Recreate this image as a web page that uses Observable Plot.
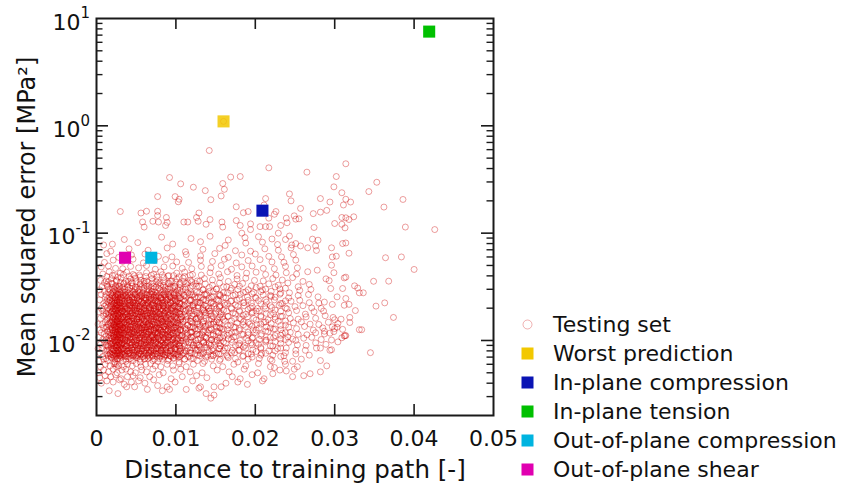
<!DOCTYPE html>
<html><head><meta charset="utf-8">
<script src="https://cdn.jsdelivr.net/npm/d3@7"></script>
<script src="https://cdn.jsdelivr.net/npm/@observablehq/plot@0.6"></script>
<style>
body{margin:0;background:#fff;font-family:"DejaVu Sans",sans-serif;}
#wrap{position:relative;width:847px;height:488px;overflow:hidden;}
.row{position:absolute;left:515px;height:29px;display:flex;align-items:center;font-size:22px;color:#111;white-space:nowrap;line-height:29px;}
.row svg{width:25px;height:25px;margin-right:13px;flex:none;}
</style></head><body><div id="wrap"></div>
<script>
// Testing set: [distance to training path, mean squared error]
const testSet = [
// sparse upper points
[.0142,.589],[.0217,.406],[.0092,.33],[.0169,.333],[.0181,.337],[.0106,.288],[.0122,.268],[.0159,.29],[.0161,.256],[.0137,.249],[.0077,.219],[.0099,.219],[.0104,.207],[.0103,.196],[.0144,.205],[.0157,.222],[.0243,.232],[.0245,.2],[.0213,.21],[.0176,.176],[.0191,.159],[.0185,.155],[.003,.159],[.0056,.154],[.0063,.16],[.0077,.16],[.0077,.146],[.0088,.14],[.0071,.129],[.0078,.127],[.0089,.126],[.0129,.154],[.0126,.14],[.0128,.129],[.0138,.121],[.0143,.134],[.0115,.127],[.0158,.127],[.0159,.114],[.0176,.131],[.0181,.118],[.0183,.1],[.0226,.159],[.0224,.15],[.0217,.138],[.0206,.115],[.0213,.115],[.0218,.115],[.0239,.138],[.024,.125],[.0229,.1],[.0243,.094],[.0251,.135],[.002,.079],[.0194,.108],[.006,.114],[.0058,.127],[.0087,.118],[.011,.127],[.0211,.183],[.0249,.145],[.0194,.122],[.0232,.118],[.016,1.1],
[.0314,.443],[.0265,.37],[.0302,.337],[.0299,.27],[.0353,.298],[.0343,.244],[.0309,.238],[.0314,.207],[.032,.195],[.0311,.183],[.0282,.21],[.0294,.195],[.0386,.206],[.0362,.175],[.0257,.17],[.029,.163],[.0282,.157],[.0273,.152],[.0255,.136],[.0309,.14],[.0314,.139],[.0318,.134],[.0324,.142],[.03,.123],[.0309,.121],[.0313,.112],[.0274,.113],[.0389,.114],[.0426,.108],
[.0272,.088],[.0279,.086],[.0251,.08],[.0257,.076],[.0266,.073],[.0276,.076],[.0277,.069],[.031,.08],[.0314,.081],[.0296,.073],[.0318,.065],[.0297,.06],[.0302,.061],[.0364,.059],[.0384,.06],
[.04,.0459],[.0349,.0356],[.0368,.0357],[.0312,.0383],[.0314,.0389],[.0325,.0323],[.0329,.0308],[.0336,.0278],[.0331,.0278],[.0352,.0209],[.0363,.0224],[.0374,.0164],[.0331,.0126],[.0334,.0126],[.0312,.011],[.0314,.0111],[.0345,.0077],[.0294,.0081],[.0282,.0085],[.029,.0058],[.0282,.0065],[.0282,.0051],[.0269,.0049],[.0261,.0047],[.0253,.0057],[.0247,.0046],[.0319,.0164],[.0319,.0147],[.0308,.0158],[.0298,.0164],[.03,.0129],[.0294,.0117],[.0287,.0122],[.0303,.0133],[.0326,.019],[.0318,.0217],[.0312,.0213],[.0314,.0246],[.0297,.0217],[.0303,.0255],[.0287,.0228],[.031,.0305],[.0295,.0305],[.0293,.0361],[.0289,.0375],[.0278,.0452],[.0296,.0503],[.0299,.0428],
// lower fringe
[.0016,.0034],[.0027,.0032],[.0038,.0037],[.0048,.0037],[.0064,.0035],[.0077,.0038],[.0083,.0034],[.0089,.0037],[.0092,.0035],[.0113,.0035],[.0129,.0036],[.0131,.0037],[.0138,.0032],[.0144,.0029],[.0148,.0031],[.0148,.0037],[.0157,.0037],[.0178,.0041],[.0181,.0044],[.019,.0039],[.0209,.0042],[.0211,.0044],[.0222,.0049],[.0224,.0056],[.0239,.0052],[.0247,.0064],[.0249,.0054],
[.0006,.004],[.0013,.0042],[.0021,.0041],[.0029,.0043],[.0035,.0039],[.0044,.0041],[.0053,.0042],[.0061,.004],[.0072,.0043],[.0099,.0041],[.0121,.0042],[.0163,.004],
[.0004,.0045],[.0011,.0047],[.0018,.0046],[.0024,.0048],[.0031,.0044],[.0039,.0046],[.0046,.0047],[.0055,.0045],[.0067,.0046],[.0079,.0048],[.0094,.0044],[.0108,.0046],[.0126,.0047],[.0139,.0045],[.0171,.0046],[.0196,.0048],
[.0003,.005],[.0009,.0053],[.0015,.0051],[.0021,.0054],[.0026,.005],[.0032,.0053],[.0037,.0054],[.0043,.0051],[.0049,.005],[.0057,.0053],[.0063,.0051],[.0071,.0054],[.0084,.005],[.0097,.0053],[.0106,.0054],[.0118,.0051],[.0133,.005],[.0152,.0053],[.0167,.0051],[.0186,.0054],[.0203,.005],[.0231,.0053],
[.0005,.0057],[.0011,.006],[.0017,.0058],[.0022,.0061],[.0025,.0057],[.0026,.006],[.0024,.0061],[.0028,.0058],[.0034,.0057],[.0039,.006],[.0045,.0058],[.005,.0061],[.0056,.0057],[.0062,.006],[.0068,.0061],[.0074,.0058],[.0081,.0057],[.0089,.006],[.0096,.0058],[.0104,.0061],[.0113,.0057],[.0122,.006],[.0134,.0061],[.0147,.0058],[.0159,.0057],[.0173,.006],[.0188,.0058],[.0204,.0061],[.0219,.0057],[.0238,.006],
// core
[.0003,.0064],[.0009,.0067],[.0014,.0065],[.0019,.0069],[.0023,.0063],[.0026,.0067],[.0029,.0068],[.0033,.0065],[.0037,.0064],[.0041,.0067],[.0046,.0065],[.0051,.0069],[.0055,.0063],[.006,.0067],[.0065,.0068],[.0071,.0065],[.0077,.0064],[.0083,.0067],[.009,.0065],[.0097,.0069],[.0104,.0063],[.0111,.0067],[.0119,.0068],[.0127,.0065],[.0136,.0064],[.0145,.0067],[.0155,.0065],[.0166,.0069],[.0178,.0063],[.0191,.0067],[.0205,.0068],[.0221,.0065],[.0237,.0064],[.0258,.0067],
[.0004,.0077],[.0008,.0071],[.0013,.0075],[.0017,.0076],[.0021,.0073],[.0024,.0072],[.0027,.0075],[.003,.0073],[.0032,.0077],[.0036,.0071],[.004,.0075],[.0043,.0076],[.0047,.0073],[.0052,.0072],[.0056,.0075],[.0061,.0073],[.0066,.0077],[.007,.0071],[.0075,.0075],[.008,.0076],[.0086,.0073],[.0092,.0072],[.0098,.0075],[.0103,.0073],[.011,.0077],[.0117,.0071],[.0124,.0075],[.0131,.0076],[.0139,.0073],[.0147,.0072],[.0156,.0075],[.0164,.0073],[.0174,.0077],[.0184,.0071],[.0195,.0075],[.0208,.0076],[.0222,.0073],[.0236,.0072],[.0251,.0075],[.0268,.0073],
[.0002,.0084],[.0007,.0085],[.0012,.0081],[.0016,.0081],[.0019,.0085],[.0022,.0082],[.0025,.0086],[.0028,.008],[.0031,.0084],[.0034,.0085],[.0037,.0081],[.0041,.0081],[.0044,.0085],[.0048,.0082],[.0052,.0086],[.0055,.008],[.0059,.0084],[.0063,.0085],[.0068,.0081],[.0072,.0081],[.0077,.0085],[.0082,.0082],[.0087,.0086],[.0093,.008],[.0099,.0084],[.0105,.0085],[.0111,.0081],[.0118,.0081],[.0124,.0085],[.0132,.0082],[.0139,.0086],[.0147,.008],[.0154,.0084],[.0162,.0085],[.0171,.0081],[.0179,.0081],[.0188,.0085],[.0197,.0082],[.0207,.0086],[.0217,.008],[.0228,.0084],[.0239,.0085],[.0251,.0081],[.0263,.0081],[.0277,.0085],[.0296,.0082],
[.0005,.0092],[.001,.0097],[.0014,.0089],[.0018,.0094],[.0021,.0096],[.0023,.0091],[.0026,.009],[.0029,.0095],[.0032,.0092],[.0035,.0097],[.0038,.0089],[.0042,.0094],[.0045,.0096],[.0049,.0091],[.0053,.009],[.0056,.0095],[.006,.0092],[.0064,.0097],[.0067,.0089],[.0071,.0094],[.0075,.0096],[.0079,.0091],[.0084,.009],[.0089,.0095],[.0094,.0092],[.0099,.0097],[.0104,.0089],[.011,.0094],[.0116,.0096],[.0122,.0091],[.0129,.009],[.0135,.0095],[.0142,.0092],[.0149,.0097],[.0156,.0089],[.0163,.0094],[.0171,.0096],[.0179,.0091],[.0187,.009],[.0195,.0095],[.0204,.0092],[.0213,.0097],[.0222,.0089],[.0232,.0094],[.0242,.0096],[.0253,.0091],[.0264,.009],[.0276,.0095],[.0289,.0092],[.0304,.0097],
[.0003,.0107],[.0008,.0102],[.0012,.0101],[.0016,.0106],[.002,.0103],[.0022,.0108],[.0025,.01],[.0027,.0105],[.003,.0107],[.0033,.0102],[.0036,.0101],[.0039,.0106],[.0043,.0103],[.0046,.0108],[.005,.01],[.0054,.0105],[.0057,.0107],[.0061,.0102],[.0065,.0101],[.0069,.0106],[.0073,.0103],[.0077,.0108],[.0081,.01],[.0086,.0105],[.0091,.0107],[.0096,.0102],[.0101,.0101],[.0107,.0106],[.0113,.0103],[.0119,.0108],[.0125,.01],[.0131,.0105],[.0138,.0107],[.0145,.0102],[.0152,.0101],[.0159,.0106],[.0166,.0103],[.0173,.0108],[.0181,.01],[.0189,.0105],[.0197,.0107],[.0205,.0102],[.0214,.0101],[.0223,.0106],[.0232,.0103],[.0241,.0108],[.0251,.01],[.0261,.0105],[.0271,.0107],[.0283,.0102],[.0296,.0101],[.0309,.0106],[.0247,.0103],[.0071,.0108],
[.0006,.0118],[.001,.0115],[.0014,.0121],[.0018,.0111],[.0021,.0117],[.0024,.0119],[.0026,.0114],[.0028,.0113],[.0031,.0118],[.0034,.0115],[.0037,.0121],[.004,.0111],[.0044,.0117],[.0047,.0119],[.0051,.0114],[.0055,.0113],[.0058,.0118],[.0062,.0115],[.0066,.0121],[.007,.0111],[.0074,.0117],[.0078,.0119],[.0083,.0114],[.0087,.0113],[.0092,.0118],[.0097,.0115],[.0102,.0121],[.0108,.0111],[.0114,.0117],[.012,.0119],[.0126,.0114],[.0133,.0113],[.014,.0118],[.0147,.0115],[.0153,.0121],[.016,.0111],[.0167,.0117],[.0175,.0119],[.0183,.0114],[.0191,.0113],[.0199,.0118],[.0208,.0115],[.0216,.0121],[.0225,.0111],[.0234,.0117],[.0244,.0119],[.0254,.0114],[.0265,.0113],[.0276,.0118],[.0287,.0115],[.0299,.0121],[.0313,.0111],[.0048,.0117],[.0063,.0119],[.0089,.0114],[.0029,.0113],
[.0004,.0125],[.0009,.0131],[.0013,.0134],[.0017,.0127],[.002,.0126],[.0023,.0133],[.0025,.0129],[.0028,.0135],[.003,.0125],[.0033,.0131],[.0036,.0134],[.0039,.0127],[.0042,.0126],[.0046,.0133],[.0049,.0129],[.0053,.0135],[.0056,.0125],[.006,.0131],[.0064,.0134],[.0068,.0127],[.0072,.0126],[.0076,.0133],[.008,.0129],[.0085,.0135],[.009,.0125],[.0095,.0131],[.01,.0134],[.0106,.0127],[.0112,.0126],[.0118,.0133],[.0124,.0129],[.013,.0135],[.0137,.0125],[.0144,.0131],[.0151,.0134],[.0158,.0127],[.0165,.0126],[.0173,.0133],[.018,.0129],[.0188,.0135],[.0197,.0125],[.0205,.0131],[.0214,.0134],[.0223,.0127],[.0232,.0126],[.0242,.0133],[.0252,.0129],[.0262,.0135],[.0273,.0125],[.0285,.0131],[.0297,.0134],[.031,.0127],[.0035,.0126],[.0058,.0133],[.0078,.0129],[.0024,.0135],
[.0002,.0142],[.0007,.0141],[.0011,.0148],[.0015,.0144],[.0019,.0151],[.0022,.0139],[.0024,.0146],[.0027,.0149],[.0029,.0142],[.0032,.0141],[.0035,.0148],[.0038,.0144],[.0041,.0151],[.0044,.0139],[.0048,.0146],[.0051,.0149],[.0055,.0142],[.0059,.0141],[.0062,.0148],[.0066,.0144],[.007,.0151],[.0074,.0139],[.0079,.0146],[.0083,.0149],[.0088,.0142],[.0093,.0141],[.0098,.0148],[.0103,.0144],[.0109,.0151],[.0115,.0139],[.0121,.0146],[.0127,.0149],[.0134,.0142],[.0141,.0141],[.0148,.0148],[.0155,.0144],[.0162,.0151],[.0169,.0139],[.0177,.0146],[.0185,.0149],[.0193,.0142],[.0202,.0141],[.0211,.0148],[.022,.0144],[.0229,.0151],[.0238,.0139],[.0248,.0146],[.0258,.0149],[.0269,.0142],[.028,.0141],[.0292,.0148],[.0304,.0144],[.0044,.0151],[.0067,.0139],[.0091,.0146],[.0026,.0149],
[.0005,.0161],[.0009,.017],[.0013,.0156],[.0017,.0165],[.0021,.0168],[.0023,.016],[.0026,.0158],[.0028,.0166],[.0031,.0161],[.0034,.017],[.0037,.0156],[.004,.0165],[.0043,.0168],[.0047,.016],[.005,.0158],[.0054,.0166],[.0058,.0161],[.0061,.017],[.0065,.0156],[.0069,.0165],[.0073,.0168],[.0077,.016],[.0082,.0158],[.0086,.0166],[.0091,.0161],[.0096,.017],[.0101,.0156],[.0107,.0165],[.0113,.0168],[.0119,.016],[.0125,.0158],[.0131,.0166],[.0138,.0161],[.0145,.017],[.0152,.0156],[.0159,.0165],[.0166,.0168],[.0174,.016],[.0182,.0158],[.019,.0166],[.0198,.0161],[.0207,.017],[.0216,.0156],[.0225,.0165],[.0234,.0168],[.0244,.016],[.0254,.0158],[.0264,.0166],[.0276,.0161],[.0288,.017],[.03,.0156],[.0038,.0165],[.0057,.0168],[.0079,.016],
[.0003,.0185],[.0008,.0188],[.0012,.0179],[.0016,.0178],[.002,.0187],[.0022,.0181],[.0025,.019],[.0027,.0176],[.003,.0185],[.0033,.0188],[.0036,.0179],[.0039,.0178],[.0042,.0187],[.0045,.0181],[.0049,.019],[.0053,.0176],[.0056,.0185],[.006,.0188],[.0064,.0179],[.0068,.0178],[.0072,.0187],[.0076,.0181],[.008,.019],[.0085,.0176],[.009,.0185],[.0095,.0188],[.01,.0179],[.0105,.0178],[.0111,.0187],[.0117,.0181],[.0123,.019],[.013,.0176],[.0136,.0185],[.0143,.0188],[.015,.0179],[.0157,.0178],[.0164,.0187],[.0172,.0181],[.018,.019],[.0188,.0176],[.0196,.0185],[.0205,.0188],[.0214,.0179],[.0223,.0178],[.0232,.0187],[.0242,.0181],[.0252,.019],[.0263,.0176],[.0274,.0185],[.0286,.0188],[.0052,.0179],[.0071,.0178],
[.0006,.0199],[.001,.0209],[.0014,.0203],[.0018,.0213],[.0021,.0197],[.0024,.0207],[.0026,.0211],[.0029,.0201],[.0032,.0199],[.0035,.0209],[.0038,.0203],[.0041,.0213],[.0044,.0197],[.0048,.0207],[.0051,.0211],[.0055,.0201],[.0059,.0199],[.0063,.0209],[.0067,.0203],[.0071,.0213],[.0075,.0197],[.0079,.0207],[.0084,.0211],[.0089,.0201],[.0094,.0199],[.0099,.0209],[.0104,.0203],[.011,.0213],[.0116,.0197],[.0122,.0207],[.0128,.0211],[.0134,.0201],[.0141,.0199],[.0148,.0209],[.0155,.0203],[.0162,.0213],[.017,.0197],[.0178,.0207],[.0186,.0211],[.0194,.0201],[.0203,.0199],[.0212,.0209],[.0221,.0203],[.023,.0213],[.024,.0197],[.025,.0207],[.026,.0211],[.0271,.0201],[.0283,.0199],[.0046,.0209],
[.0004,.0239],[.0009,.0221],[.0013,.0232],[.0017,.0237],[.002,.0225],[.0023,.0223],[.0026,.0235],[.0029,.0228],[.0032,.0239],[.0035,.0221],[.0039,.0232],[.0042,.0237],[.0046,.0225],[.0049,.0223],[.0053,.0235],[.0057,.0228],[.0061,.0239],[.0065,.0221],[.0069,.0232],[.0074,.0237],[.0078,.0225],[.0083,.0223],[.0088,.0235],[.0093,.0228],[.0099,.0239],[.0105,.0221],[.0111,.0232],[.0117,.0237],[.0124,.0225],[.0131,.0223],[.0138,.0235],[.0145,.0228],[.0153,.0239],[.0161,.0221],[.0169,.0232],[.0177,.0237],[.0186,.0225],[.0195,.0223],[.0204,.0235],[.0214,.0228],[.0224,.0239],[.0234,.0221],[.0245,.0232],[.0256,.0237],[.0268,.0225],[.028,.0223],
[.0006,.0268],[.0011,.0255],[.0016,.0252],[.002,.0265],[.0024,.0257],[.0027,.027],[.003,.025],[.0034,.0263],[.0037,.0268],[.0041,.0255],[.0045,.0252],[.0049,.0265],[.0053,.0257],[.0057,.027],[.0062,.025],[.0066,.0263],[.0071,.0268],[.0076,.0255],[.0081,.0252],[.0086,.0265],[.0092,.0257],[.0098,.027],[.0104,.025],[.011,.0263],[.0117,.0268],[.0124,.0255],[.0131,.0252],[.0139,.0265],[.0147,.0257],[.0155,.027],[.0163,.025],[.0172,.0263],[.0181,.0268],[.019,.0255],[.02,.0252],[.021,.0265],[.022,.0257],[.0231,.027],[.0242,.025],[.0254,.0263],[.0267,.0268],[.0279,.0255],
[.0004,.0296],[.001,.0287],[.0015,.0302],[.002,.0278],[.0024,.0293],[.0028,.0299],[.0032,.0284],[.0036,.0281],[.004,.0296],[.0045,.0287],[.0049,.0302],[.0054,.0278],[.0059,.0293],[.0064,.0299],[.0069,.0284],[.0074,.0281],[.008,.0296],[.0086,.0287],[.0092,.0302],[.0098,.0278],[.0105,.0293],[.0112,.0299],[.0119,.0284],[.0126,.0281],[.0134,.0296],[.0142,.0287],[.0151,.0302],[.016,.0278],[.0169,.0293],[.0178,.0299],[.0188,.0284],[.0198,.0281],[.0209,.0296],[.022,.0287],[.0231,.0302],[.0243,.0278],[.0256,.0293],[.027,.0299],
[.0007,.0317],[.0013,.0333],[.0019,.034],[.0024,.0323],[.0029,.032],[.0034,.0337],[.0039,.0327],[.0044,.0343],[.0049,.0317],[.0055,.0333],[.006,.034],[.0066,.0323],[.0072,.032],[.0078,.0337],[.0084,.0327],[.0091,.0343],[.0098,.0317],[.0105,.0333],[.0113,.034],[.0121,.0323],[.0129,.032],[.0137,.0337],[.0146,.0327],[.0155,.0343],[.0164,.0317],[.0174,.0333],[.0184,.034],[.0195,.0323],[.0206,.032],[.0217,.0337],[.0229,.0327],[.0241,.0343],[.0254,.0317],[.0268,.0333],
// dense core, second pass
[.0012,.0068],[.0015,.0072],[.0018,.007],[.0021,.0073],[.0023,.0067],[.0025,.0071],[.0027,.0068],[.0029,.0072],[.0031,.007],[.0034,.0073],[.0037,.0067],[.004,.0071],[.0043,.0068],[.0046,.0072],[.0049,.007],[.0052,.0073],[.0055,.0067],[.0058,.0071],[.0061,.0068],[.0064,.0072],[.0067,.007],[.007,.0073],[.0073,.0067],[.0076,.0071],[.0079,.0068],[.0082,.0072],[.0085,.007],[.0088,.0073],[.0091,.0067],[.0094,.0071],[.0097,.0068],[.01,.0072],[.0103,.007],[.0107,.0073],[.0111,.0067],[.0115,.0071],[.0122,.0068],[.013,.0072],[.0138,.007],[.0147,.0073],[.0156,.0067],[.0165,.0071],[.0175,.0068],[.0185,.0072],[.0196,.007],[.0207,.0073],[.0219,.0067],[.0232,.0071],
[.0014,.0081],[.0017,.0075],[.002,.0079],[.0022,.0076],[.0024,.008],[.0026,.0077],[.0028,.0081],[.003,.0075],[.0033,.0079],[.0036,.0076],[.0039,.008],[.0042,.0077],[.0045,.0081],[.0048,.0075],[.0051,.0079],[.0054,.0076],[.0057,.008],[.006,.0077],[.0063,.0081],[.0066,.0075],[.0069,.0079],[.0072,.0076],[.0075,.008],[.0078,.0077],[.0081,.0081],[.0084,.0075],[.0087,.0079],[.009,.0076],[.0093,.008],[.0096,.0077],[.0099,.0081],[.0102,.0075],[.0105,.0079],[.0109,.0076],[.0113,.008],[.0118,.0077],[.0126,.0081],[.0134,.0075],[.0142,.0079],[.0151,.0076],[.016,.008],[.017,.0077],[.018,.0081],[.0191,.0075],[.0201,.0079],[.0213,.0076],[.0225,.008],[.0238,.0077],
[.0012,.009],[.0015,.0087],[.0018,.0091],[.0021,.0084],[.0023,.0089],[.0025,.0085],[.0027,.009],[.0029,.0087],[.0031,.0091],[.0034,.0084],[.0037,.0089],[.004,.0085],[.0043,.009],[.0046,.0087],[.0049,.0091],[.0052,.0084],[.0055,.0089],[.0058,.0085],[.0061,.009],[.0064,.0087],[.0067,.0091],[.007,.0084],[.0073,.0089],[.0076,.0085],[.0079,.009],[.0082,.0087],[.0085,.0091],[.0088,.0084],[.0091,.0089],[.0094,.0085],[.0097,.009],[.01,.0087],[.0103,.0091],[.0107,.0084],[.0111,.0089],[.0115,.0085],[.0122,.009],[.013,.0087],[.0138,.0091],[.0147,.0084],[.0156,.0089],[.0165,.0085],[.0175,.009],[.0185,.0087],[.0196,.0091],[.0207,.0084],[.0219,.0089],[.0232,.0085],
[.0014,.0094],[.0017,.0099],[.002,.0095],[.0022,.01],[.0024,.0097],[.0026,.0102],[.0028,.0094],[.003,.0099],[.0033,.0095],[.0036,.01],[.0039,.0097],[.0042,.0102],[.0045,.0094],[.0048,.0099],[.0051,.0095],[.0054,.01],[.0057,.0097],[.006,.0102],[.0063,.0094],[.0066,.0099],[.0069,.0095],[.0072,.01],[.0075,.0097],[.0078,.0102],[.0081,.0094],[.0084,.0099],[.0087,.0095],[.009,.01],[.0093,.0097],[.0096,.0102],[.0099,.0094],[.0102,.0099],[.0105,.0095],[.0109,.01],[.0113,.0097],[.0118,.0102],[.0126,.0094],[.0134,.0099],[.0142,.0095],[.0151,.01],[.016,.0097],[.017,.0102],[.018,.0094],[.0191,.0099],[.0201,.0095],[.0213,.01],[.0225,.0097],[.0238,.0102],
[.0012,.0109],[.0015,.0114],[.0018,.0105],[.0021,.0111],[.0023,.0107],[.0025,.0112],[.0027,.0109],[.0029,.0114],[.0031,.0105],[.0034,.0111],[.0037,.0107],[.004,.0112],[.0043,.0109],[.0046,.0114],[.0049,.0105],[.0052,.0111],[.0055,.0107],[.0058,.0112],[.0061,.0109],[.0064,.0114],[.0067,.0105],[.007,.0111],[.0073,.0107],[.0076,.0112],[.0079,.0109],[.0082,.0114],[.0085,.0105],[.0088,.0111],[.0091,.0107],[.0094,.0112],[.0097,.0109],[.01,.0114],[.0103,.0105],[.0107,.0111],[.0111,.0107],[.0115,.0112],[.0122,.0109],[.013,.0114],[.0138,.0105],[.0147,.0111],[.0156,.0107],[.0165,.0112],[.0175,.0109],[.0185,.0114],[.0196,.0105],[.0207,.0111],[.0219,.0107],[.0232,.0112],
[.0014,.0124],[.0017,.0119],[.002,.0125],[.0022,.0122],[.0024,.0128],[.0026,.0118],[.0028,.0124],[.003,.0119],[.0033,.0125],[.0036,.0122],[.0039,.0128],[.0042,.0118],[.0045,.0124],[.0048,.0119],[.0051,.0125],[.0054,.0122],[.0057,.0128],[.006,.0118],[.0063,.0124],[.0066,.0119],[.0069,.0125],[.0072,.0122],[.0075,.0128],[.0078,.0118],[.0081,.0124],[.0084,.0119],[.0087,.0125],[.009,.0122],[.0093,.0128],[.0096,.0118],[.0099,.0124],[.0102,.0119],[.0105,.0125],[.0109,.0122],[.0113,.0128],[.0118,.0118],[.0126,.0124],[.0134,.0119],[.0142,.0125],[.0151,.0122],[.016,.0128],[.017,.0118],[.018,.0124],[.0191,.0119],[.0201,.0125],[.0213,.0122],[.0225,.0128],[.0238,.0118],
[.0012,.0133],[.0015,.014],[.0018,.0136],[.0021,.0142],[.0023,.0131],[.0025,.0138],[.0027,.0133],[.0029,.014],[.0031,.0136],[.0034,.0142],[.0037,.0131],[.004,.0138],[.0043,.0133],[.0046,.014],[.0049,.0136],[.0052,.0142],[.0055,.0131],[.0058,.0138],[.0061,.0133],[.0064,.014],[.0067,.0136],[.007,.0142],[.0073,.0131],[.0076,.0138],[.0079,.0133],[.0082,.014],[.0085,.0136],[.0088,.0142],[.0091,.0131],[.0094,.0138],[.0097,.0133],[.01,.014],[.0103,.0136],[.0107,.0142],[.0111,.0131],[.0115,.0138],[.0122,.0133],[.013,.014],[.0138,.0136],[.0147,.0142],[.0156,.0131],[.0165,.0138],[.0175,.0133],[.0185,.014],[.0196,.0136],[.0207,.0142],[.0219,.0131],[.0232,.0138],
[.0014,.016],[.0017,.0147],[.002,.0155],[.0022,.0149],[.0024,.0157],[.0026,.0152],[.0028,.016],[.003,.0147],[.0033,.0155],[.0036,.0149],[.0039,.0157],[.0042,.0152],[.0045,.016],[.0048,.0147],[.0051,.0155],[.0054,.0149],[.0057,.0157],[.006,.0152],[.0063,.016],[.0066,.0147],[.0069,.0155],[.0072,.0149],[.0075,.0157],[.0078,.0152],[.0081,.016],[.0084,.0147],[.0087,.0155],[.009,.0149],[.0093,.0157],[.0096,.0152],[.0099,.016],[.0102,.0147],[.0105,.0155],[.0109,.0149],[.0113,.0157],[.0118,.0152],[.0126,.016],[.0134,.0147],[.0142,.0155],[.0151,.0149],[.016,.0157],[.017,.0152],[.018,.016],[.0191,.0147],[.0201,.0155],[.0213,.0149],[.0225,.0157],[.0238,.0152],
[.0012,.0176],[.0015,.0171],[.0018,.018],[.0021,.0166],[.0023,.0174],[.0025,.0168],[.0027,.0176],[.0029,.0171],[.0031,.018],[.0034,.0166],[.0037,.0174],[.004,.0168],[.0043,.0176],[.0046,.0171],[.0049,.018],[.0052,.0166],[.0055,.0174],[.0058,.0168],[.0061,.0176],[.0064,.0171],[.0067,.018],[.007,.0166],[.0073,.0174],[.0076,.0168],[.0079,.0176],[.0082,.0171],[.0085,.018],[.0088,.0166],[.0091,.0174],[.0094,.0168],[.0097,.0176],[.01,.0171],[.0103,.018],[.0107,.0166],[.0111,.0174],[.0115,.0168],[.0122,.0176],[.013,.0171],[.0138,.018],[.0147,.0166],[.0156,.0174],[.0165,.0168],[.0175,.0176],[.0185,.0171],[.0196,.018],[.0207,.0166],[.0219,.0174],[.0232,.0168],
[.0014,.0186],[.0017,.0195],[.002,.0188],[.0022,.0197],[.0024,.0192],[.0026,.0201],[.0028,.0186],[.003,.0195],[.0033,.0188],[.0036,.0197],[.0039,.0192],[.0042,.0201],[.0045,.0186],[.0048,.0195],[.0051,.0188],[.0054,.0197],[.0057,.0192],[.006,.0201],[.0063,.0186],[.0066,.0195],[.0069,.0188],[.0072,.0197],[.0075,.0192],[.0078,.0201],[.0081,.0186],[.0084,.0195],[.0087,.0188],[.009,.0197],[.0093,.0192],[.0096,.0201],[.0099,.0186],[.0102,.0195],[.0105,.0188],[.0109,.0197],[.0113,.0192],[.0118,.0201],[.0126,.0186],[.0134,.0195],[.0142,.0188],[.0151,.0197],[.016,.0192],[.017,.0201],[.018,.0186],[.0191,.0195],[.0201,.0188],[.0213,.0197],[.0225,.0192],[.0238,.0201],
[.0012,.0215],[.0015,.0225],[.0018,.0208],[.0021,.0219],[.0023,.0211],[.0025,.0221],[.0027,.0215],[.0029,.0225],[.0031,.0208],[.0034,.0219],[.0037,.0211],[.004,.0221],[.0043,.0215],[.0046,.0225],[.0049,.0208],[.0052,.0219],[.0055,.0211],[.0058,.0221],[.0061,.0215],[.0064,.0225],[.0067,.0208],[.007,.0219],[.0073,.0211],[.0076,.0221],[.0079,.0215],[.0082,.0225],[.0085,.0208],[.0088,.0219],[.0091,.0211],[.0094,.0221],[.0097,.0215],[.01,.0225],[.0103,.0208],[.0107,.0219],[.0111,.0211],[.0115,.0221],[.0122,.0215],[.013,.0225],[.0138,.0208],[.0147,.0219],[.0156,.0211],[.0165,.0221],[.0175,.0215],[.0185,.0225],[.0196,.0208],[.0207,.0219],[.0219,.0211],[.0232,.0221],
[.0014,.0246],[.0017,.0237],[.002,.0248],[.0022,.0241],[.0024,.0253],[.0026,.0234],[.0028,.0246],[.003,.0237],[.0033,.0248],[.0036,.0241],[.0039,.0253],[.0042,.0234],[.0045,.0246],[.0048,.0237],[.0051,.0248],[.0054,.0241],[.0057,.0253],[.006,.0234],[.0063,.0246],[.0066,.0237],[.0069,.0248],[.0072,.0241],[.0075,.0253],[.0078,.0234],[.0081,.0246],[.0084,.0237],[.0087,.0248],[.009,.0241],[.0093,.0253],[.0096,.0234],[.0099,.0246],[.0102,.0237],[.0105,.0248],[.0109,.0241],[.0113,.0253],[.0118,.0234],[.0126,.0246],[.0134,.0237],[.0142,.0248],[.0151,.0241],[.016,.0253],[.017,.0234],[.018,.0246],[.0191,.0237],[.0201,.0248],[.0213,.0241],[.0225,.0253],[.0238,.0234],
[.0012,.0267],[.0015,.028],[.0018,.0272],[.0021,.0285],[.0023,.0263],[.0025,.0277],[.0027,.0267],[.0029,.028],[.0031,.0272],[.0034,.0285],[.0037,.0263],[.004,.0277],[.0043,.0267],[.0046,.028],[.0049,.0272],[.0052,.0285],[.0055,.0263],[.0058,.0277],[.0061,.0267],[.0064,.028],[.0067,.0272],[.007,.0285],[.0073,.0263],[.0076,.0277],[.0079,.0267],[.0082,.028],[.0085,.0272],[.0088,.0285],[.0091,.0263],[.0094,.0277],[.0097,.0267],[.01,.028],[.0103,.0272],[.0107,.0285],[.0111,.0263],[.0115,.0277],[.0122,.0267],[.013,.028],[.0138,.0272],[.0147,.0285],[.0156,.0263],[.0165,.0277],[.0175,.0267],[.0185,.028],[.0196,.0272],[.0207,.0285],[.0219,.0263],[.0232,.0277],
[.0014,.0321],[.0017,.0297],[.002,.0312],[.0022,.0301],[.0024,.0316],[.0026,.0307],[.0028,.0321],[.003,.0297],[.0033,.0312],[.0036,.0301],[.0039,.0316],[.0042,.0307],[.0045,.0321],[.0048,.0297],[.0051,.0312],[.0054,.0301],[.0057,.0316],[.006,.0307],[.0063,.0321],[.0066,.0297],[.0069,.0312],[.0072,.0301],[.0075,.0316],[.0078,.0307],[.0081,.0321],[.0084,.0297],[.0087,.0312],[.009,.0301],[.0093,.0316],[.0096,.0307],[.0099,.0321],[.0102,.0297],[.0105,.0312],[.0109,.0301],[.0113,.0316],[.0118,.0307],[.0126,.0321],[.0134,.0297],[.0142,.0312],[.0151,.0301],[.016,.0316],[.017,.0307],[.018,.0321],[.0191,.0297],[.0201,.0312],[.0213,.0301],[.0225,.0316],[.0238,.0307],
// dense core, third pass
[.0019,.0074],[.0022,.0071],[.0024,.0076],[.0026,.0073],[.0028,.0077],[.003,.0072],[.0032,.0075],[.0035,.0074],[.0038,.0071],[.0041,.0076],[.0044,.0073],[.0047,.0077],[.005,.0072],[.0053,.0075],[.0056,.0074],[.0059,.0071],[.0062,.0076],[.0065,.0073],[.0068,.0077],[.0071,.0072],[.0074,.0075],[.0077,.0074],[.008,.0071],[.0083,.0076],[.0086,.0073],[.0089,.0077],[.0093,.0072],[.0097,.0075],[.0101,.0074],[.0105,.0071],[.0119,.0076],[.0127,.0073],[.0135,.0077],[.0144,.0072],[.0154,.0075],
[.002,.0083],[.0023,.008],[.0025,.0085],[.0027,.0081],[.0029,.0086],[.0031,.0082],[.0033,.0084],[.0036,.0083],[.0039,.008],[.0042,.0085],[.0045,.0081],[.0048,.0086],[.0051,.0082],[.0054,.0084],[.0057,.0083],[.006,.008],[.0063,.0085],[.0066,.0081],[.0069,.0086],[.0072,.0082],[.0075,.0084],[.0078,.0083],[.0081,.008],[.0084,.0085],[.0087,.0081],[.009,.0086],[.0094,.0082],[.0098,.0084],[.0102,.0083],[.0106,.008],[.012,.0085],[.0128,.0081],[.0136,.0086],[.0145,.0082],[.0155,.0084],
[.0019,.0093],[.0022,.0089],[.0024,.0096],[.0026,.0091],[.0028,.0097],[.003,.009],[.0032,.0094],[.0035,.0093],[.0038,.0089],[.0041,.0096],[.0044,.0091],[.0047,.0097],[.005,.009],[.0053,.0094],[.0056,.0093],[.0059,.0089],[.0062,.0096],[.0065,.0091],[.0068,.0097],[.0071,.009],[.0074,.0094],[.0077,.0093],[.008,.0089],[.0083,.0096],[.0086,.0091],[.0089,.0097],[.0093,.009],[.0097,.0094],[.0101,.0093],[.0105,.0089],[.0119,.0096],[.0127,.0091],[.0135,.0097],[.0144,.009],[.0154,.0094],
[.002,.0104],[.0023,.01],[.0025,.0107],[.0027,.0102],[.0029,.0108],[.0031,.0101],[.0033,.0105],[.0036,.0104],[.0039,.01],[.0042,.0107],[.0045,.0102],[.0048,.0108],[.0051,.0101],[.0054,.0105],[.0057,.0104],[.006,.01],[.0063,.0107],[.0066,.0102],[.0069,.0108],[.0072,.0101],[.0075,.0105],[.0078,.0104],[.0081,.01],[.0084,.0107],[.0087,.0102],[.009,.0108],[.0094,.0101],[.0098,.0105],[.0102,.0104],[.0106,.01],[.012,.0107],[.0128,.0102],[.0136,.0108],[.0145,.0101],[.0155,.0105],
[.0019,.0117],[.0022,.0112],[.0024,.012],[.0026,.0115],[.0028,.0122],[.003,.0113],[.0032,.0118],[.0035,.0117],[.0038,.0112],[.0041,.012],[.0044,.0115],[.0047,.0122],[.005,.0113],[.0053,.0118],[.0056,.0117],[.0059,.0112],[.0062,.012],[.0065,.0115],[.0068,.0122],[.0071,.0113],[.0074,.0118],[.0077,.0117],[.008,.0112],[.0083,.012],[.0086,.0115],[.0089,.0122],[.0093,.0113],[.0097,.0118],[.0101,.0117],[.0105,.0112],[.0119,.012],[.0127,.0115],[.0135,.0122],[.0144,.0113],[.0154,.0118],
[.002,.013],[.0023,.0125],[.0025,.0134],[.0027,.0127],[.0029,.0135],[.0031,.0126],[.0033,.0131],[.0036,.013],[.0039,.0125],[.0042,.0134],[.0045,.0127],[.0048,.0135],[.0051,.0126],[.0054,.0131],[.0057,.013],[.006,.0125],[.0063,.0134],[.0066,.0127],[.0069,.0135],[.0072,.0126],[.0075,.0131],[.0078,.013],[.0081,.0125],[.0084,.0134],[.0087,.0127],[.009,.0135],[.0094,.0126],[.0098,.0131],[.0102,.013],[.0106,.0125],[.012,.0134],[.0128,.0127],[.0136,.0135],[.0145,.0126],[.0155,.0131],
[.0019,.0146],[.0022,.014],[.0024,.015],[.0026,.0143],[.0028,.0152],[.003,.0142],[.0032,.0147],[.0035,.0146],[.0038,.014],[.0041,.015],[.0044,.0143],[.0047,.0152],[.005,.0142],[.0053,.0147],[.0056,.0146],[.0059,.014],[.0062,.015],[.0065,.0143],[.0068,.0152],[.0071,.0142],[.0074,.0147],[.0077,.0146],[.008,.014],[.0083,.015],[.0086,.0143],[.0089,.0152],[.0093,.0142],[.0097,.0147],[.0101,.0146],[.0105,.014],[.0119,.015],[.0127,.0143],[.0135,.0152],[.0144,.0142],[.0154,.0147],
[.002,.0164],[.0023,.0157],[.0025,.0169],[.0027,.0161],[.0029,.0171],[.0031,.0159],[.0033,.0166],[.0036,.0164],[.0039,.0157],[.0042,.0169],[.0045,.0161],[.0048,.0171],[.0051,.0159],[.0054,.0166],[.0057,.0164],[.006,.0157],[.0063,.0169],[.0066,.0161],[.0069,.0171],[.0072,.0159],[.0075,.0166],[.0078,.0164],[.0081,.0157],[.0084,.0169],[.0087,.0161],[.009,.0171],[.0094,.0159],[.0098,.0166],[.0102,.0164],[.0106,.0157],[.012,.0169],[.0128,.0161],[.0136,.0171],[.0145,.0159],[.0155,.0166],
[.0019,.0184],[.0022,.0177],[.0024,.019],[.0026,.018],[.0028,.0191],[.003,.0178],[.0032,.0186],[.0035,.0184],[.0038,.0177],[.0041,.019],[.0044,.018],[.0047,.0191],[.005,.0178],[.0053,.0186],[.0056,.0184],[.0059,.0177],[.0062,.019],[.0065,.018],[.0068,.0191],[.0071,.0178],[.0074,.0186],[.0077,.0184],[.008,.0177],[.0083,.019],[.0086,.018],[.0089,.0191],[.0093,.0178],[.0097,.0186],[.0101,.0184],[.0105,.0177],[.0119,.019],[.0127,.018],[.0135,.0191],[.0144,.0178],[.0154,.0186],
[.002,.0206],[.0023,.0198],[.0025,.0212],[.0027,.0202],[.0029,.0214],[.0031,.02],[.0033,.0208],[.0036,.0206],[.0039,.0198],[.0042,.0212],[.0045,.0202],[.0048,.0214],[.0051,.02],[.0054,.0208],[.0057,.0206],[.006,.0198],[.0063,.0212],[.0066,.0202],[.0069,.0214],[.0072,.02],[.0075,.0208],[.0078,.0206],[.0081,.0198],[.0084,.0212],[.0087,.0202],[.009,.0214],[.0094,.02],[.0098,.0208],[.0102,.0206],[.0106,.0198],[.012,.0212],[.0128,.0202],[.0136,.0214],[.0145,.02],[.0155,.0208],
[.0019,.0231],[.0022,.0222],[.0024,.0238],[.0026,.0226],[.0028,.024],[.003,.0224],[.0032,.0233],[.0035,.0231],[.0038,.0222],[.0041,.0238],[.0044,.0226],[.0047,.024],[.005,.0224],[.0053,.0233],[.0056,.0231],[.0059,.0222],[.0062,.0238],[.0065,.0226],[.0068,.024],[.0071,.0224],[.0074,.0233],[.0077,.0231],[.008,.0222],[.0083,.0238],[.0086,.0226],[.0089,.024],[.0093,.0224],[.0097,.0233],[.0101,.0231],[.0105,.0222],[.0119,.0238],[.0127,.0226],[.0135,.024],[.0144,.0224],[.0154,.0233],
[.002,.026],[.0023,.025],[.0025,.0268],[.0027,.0255],[.0029,.027],[.0031,.0252],[.0033,.0263],[.0036,.026],[.0039,.025],[.0042,.0268],[.0045,.0255],[.0048,.027],[.0051,.0252],[.0054,.0263],[.0057,.026],[.006,.025],[.0063,.0268],[.0066,.0255],[.0069,.027],[.0072,.0252],[.0075,.0263],[.0078,.026],[.0081,.025],[.0084,.0268],[.0087,.0255],[.009,.027],[.0094,.0252],[.0098,.0263],[.0102,.026],[.0106,.025],[.012,.0268],[.0128,.0255],[.0136,.027],[.0145,.0252],[.0155,.0263],
[.001,.0345],[.0015,.0352],[.002,.0339],[.0025,.0356],[.003,.0348],[.0035,.0342],[.004,.0354],[.0045,.0345],[.005,.0352],[.0055,.0339],[.006,.0356],[.0065,.0348],[.007,.0342],[.0075,.0354],[.008,.0345],[.0085,.0352],[.009,.0339],[.0095,.0356],[.01,.0348],[.0105,.0342],[.011,.0354],[.0115,.0345],[.012,.0352],[.0125,.0339],[.013,.0356],
[.0013,.0395],[.002,.0405],[.0027,.039],[.0034,.041],[.0041,.0398],[.0048,.0402],[.0055,.0392],[.0062,.0395],[.0069,.0405],[.0076,.039],[.0083,.041],[.009,.0398],[.0097,.0402],[.0104,.0392],[.0111,.0395],[.0118,.0405],
// upper fringe
[.0005,.0363],[.0012,.0359],[.0019,.0377],[.0025,.0366],[.0031,.0385],[.0037,.0355],[.0043,.0374],[.0049,.0381],[.0056,.0363],[.0063,.0359],[.007,.0377],[.0077,.0366],[.0085,.0385],[.0093,.0355],[.0101,.0374],[.0109,.0381],[.0118,.0363],[.0127,.0359],[.0136,.0377],[.0146,.0366],[.0156,.0385],[.0166,.0355],[.0177,.0374],[.0188,.0381],[.0199,.0363],[.021,.0359],[.0222,.0377],[.0234,.0366],[.0247,.0385],[.026,.0355],
[.0008,.0416],[.0016,.0437],[.0023,.0403],[.003,.0424],[.0038,.0433],[.0046,.0412],[.0054,.0407],[.0063,.0428],[.0072,.0416],[.0081,.0437],[.0091,.0403],[.0101,.0424],[.0111,.0433],[.0121,.0412],[.0132,.0407],[.0143,.0428],[.0154,.0416],[.0165,.0437],[.0177,.0403],[.0189,.0424],[.0201,.0433],[.0213,.0412],[.0226,.0407],[.0239,.0428],[.0252,.0416],[.0266,.0437],
[.0006,.0485],[.0015,.0494],[.0024,.047],[.0033,.0466],[.0043,.049],[.0053,.0475],[.0063,.0499],[.0074,.0461],[.0085,.0485],[.0096,.0494],[.0108,.047],[.012,.0466],[.0132,.049],[.0144,.0475],[.0157,.0499],[.017,.0461],[.0183,.0485],[.0196,.0494],[.021,.047],[.0224,.0466],[.0238,.049],[.0253,.0475],
[.001,.0534],[.0021,.0561],[.0033,.0545],[.0046,.0572],[.0059,.0528],[.0073,.0556],[.0087,.0567],[.0101,.0539],[.0116,.0534],[.0131,.0561],[.0146,.0545],[.0161,.0572],[.0176,.0528],[.0191,.0556],[.0206,.0567],[.0221,.0539],[.0236,.0534],[.0251,.0561],
[.0013,.0645],[.0028,.0595],[.0044,.0626],[.0061,.0639],[.0078,.0608],[.0095,.0601],[.0113,.0632],[.0131,.0614],[.0149,.0645],[.0166,.0595],[.0183,.0626],[.02,.0639],[.0217,.0608],[.0233,.0601],[.0248,.0632],
[.0018,.0679],[.0041,.0714],[.0065,.0693],[.0089,.0728],[.0112,.0672],[.0134,.0707],[.0155,.0721],[.0175,.0686],[.0194,.0679],[.0212,.0714],[.0229,.0693],[.0245,.0728],
[.0009,.0776],[.0052,.0816],[.0096,.0792],[.0131,.0832],[.0162,.0768],[.0188,.0808],[.0209,.0824],[.0228,.0784],[.0246,.0776],
[.0035,.0873],[.0082,.0918],[.0119,.0891],[.0143,.0936],[.0166,.0864],[.0187,.0909],[.0204,.0927],[.0221,.0882],[.0238,.0873]
];

// Highlighted cases
const specialNames = ["Worst prediction", "In-plane compression", "In-plane tension", "Out-of-plane compression", "Out-of-plane shear"];
const specialDistance = [0.016, 0.0209, 0.0419, 0.0069, 0.0036];
const specialMSE = [1.1, 0.162, 7.55, 0.059, 0.059];

// Axis ticks
const xTickValues = [0, 0.01, 0.02, 0.03, 0.04, 0.05];
const xTickLabels = ["0", "0.01", "0.02", "0.03", "0.04", "0.05"];
const xInnerTicks = [0.01, 0.02, 0.03, 0.04];
const yDecades = [0.01, 0.1, 1, 10];
const yExponents = ["-2", "-1", "0", "1"];
const yMinorTicks = [0.003,0.004,0.005,0.006,0.007,0.008,0.009,0.02,0.03,0.04,0.05,0.06,0.07,0.08,0.09,0.2,0.3,0.4,0.5,0.6,0.7,0.8,0.9,2,3,4,5,6,7,8,9];

// Styles
const colors = {
  "Testing set": "#cc0000",
  "Worst prediction": "#f2c800",
  "In-plane compression": "#0a14b4",
  "In-plane tension": "#00c000",
  "Out-of-plane compression": "#00b4e0",
  "Out-of-plane shear": "#e000b0"
};
const ink = "#1a1a1a";

const W = 847, H = 488, mL = 96, mR = 354, mT = 18, mB = 73;
const fw = W - mL - mR, fh = H - mT - mB;

const special = specialNames.map((name, i) => ({name, x: specialDistance[i], y: specialMSE[i]}));
const decadesNeg = yDecades.map((d, i) => ({d, e: yExponents[i]})).filter(o => o.e.startsWith("-"));
const decadesPos = yDecades.map((d, i) => ({d, e: yExponents[i]})).filter(o => !o.e.startsWith("-"));
const yMajorInner = [0.01, 0.1, 1];

const plot = Plot.plot({
  width: W, height: H,
  marginLeft: mL, marginRight: mR, marginTop: mT, marginBottom: mB,
  style: {fontFamily: "DejaVu Sans", fontSize: "22px", color: "#111", background: "#fff", overflow: "visible"},
  x: {domain: [0, 0.05]},
  y: {type: "log", domain: [0.002, 10], axis: null},
  color: {type: "identity"},
  marks: [
    Plot.dot(testSet, {x: d => d[0], y: d => d[1], r: 3, fill: "none", stroke: colors["Testing set"], strokeOpacity: 0.38, strokeWidth: 1}),
    Plot.dot(special, {x: "x", y: "y", symbol: "square", r: 6.8, fill: d => colors[d.name], fillOpacity: d => d.name === "Worst prediction" ? 0.85 : 1, stroke: "none"}),
    // inward ticks
    Plot.ruleX(xInnerTicks, {x: d => d, insetTop: fh - 11, stroke: ink, strokeWidth: 1.6}),
    Plot.ruleX(xInnerTicks, {x: d => d, insetBottom: fh - 11, stroke: ink, strokeWidth: 1.6}),
    Plot.ruleY(yMajorInner, {y: d => d, insetRight: fw - 12, stroke: ink, strokeWidth: 1.6}),
    Plot.ruleY(yMajorInner, {y: d => d, insetLeft: fw - 12, stroke: ink, strokeWidth: 1.6}),
    Plot.ruleY(yMinorTicks, {y: d => d, insetRight: fw - 6.5, stroke: ink, strokeWidth: 1.4}),
    Plot.ruleY(yMinorTicks, {y: d => d, insetLeft: fw - 6.5, stroke: ink, strokeWidth: 1.4}),
    Plot.frame({stroke: ink, strokeWidth: 2}),
    Plot.axisX(xTickValues, {tickSize: 0, tickPadding: 15, fontSize: 22, label: null, tickFormat: d => xTickLabels[xTickValues.indexOf(d)], fill: "#111"}),
    Plot.text(decadesPos, {y: "d", frameAnchor: "left", text: () => "10", textAnchor: "end", dx: -16, dy: 4, fontSize: 22, fill: "#111"}),
    Plot.text(decadesPos, {y: "d", frameAnchor: "left", text: "e", textAnchor: "start", dx: -16, dy: -5, fontSize: 15, fill: "#111"}),
    Plot.text(decadesNeg, {y: "d", frameAnchor: "left", text: () => "10", textAnchor: "end", dx: -21, dy: 4, fontSize: 22, fill: "#111"}),
    Plot.text(decadesNeg, {y: "d", frameAnchor: "left", text: "e", textAnchor: "start", dx: -21, dy: -5, fontSize: 15, fill: "#111"}),
    Plot.text(["Distance to training path [-]"], {frameAnchor: "bottom", text: d => d, textAnchor: "middle", lineAnchor: "middle", dy: 55, fontSize: 24.5, fill: "#111"}),
    Plot.text(["Mean squared error [MPa²]"], {frameAnchor: "left", text: d => d, textAnchor: "middle", lineAnchor: "middle", rotate: -90, dx: -69, fontSize: 24, fill: "#111"})
  ]
});

const wrap = document.getElementById("wrap");
wrap.appendChild(plot);

// Legend
const legendEntries = ["Testing set", ...specialNames];
legendEntries.forEach((name, i) => {
  const row = document.createElement("div");
  row.className = "row";
  row.style.top = (324 - 14.5 + i * 29) + "px";
  const marker = name === "Testing set"
    ? `<circle cx="12.5" cy="12.5" r="4.5" fill="none" stroke="${colors[name]}" stroke-opacity="0.3" stroke-width="1"/>`
    : `<rect x="6.5" y="6.5" width="12" height="12" fill="${colors[name]}"/>`;
  row.innerHTML = `<svg viewBox="0 0 25 25">${marker}</svg><span>${name}</span>`;
  wrap.appendChild(row);
});
</script>
</body></html>
